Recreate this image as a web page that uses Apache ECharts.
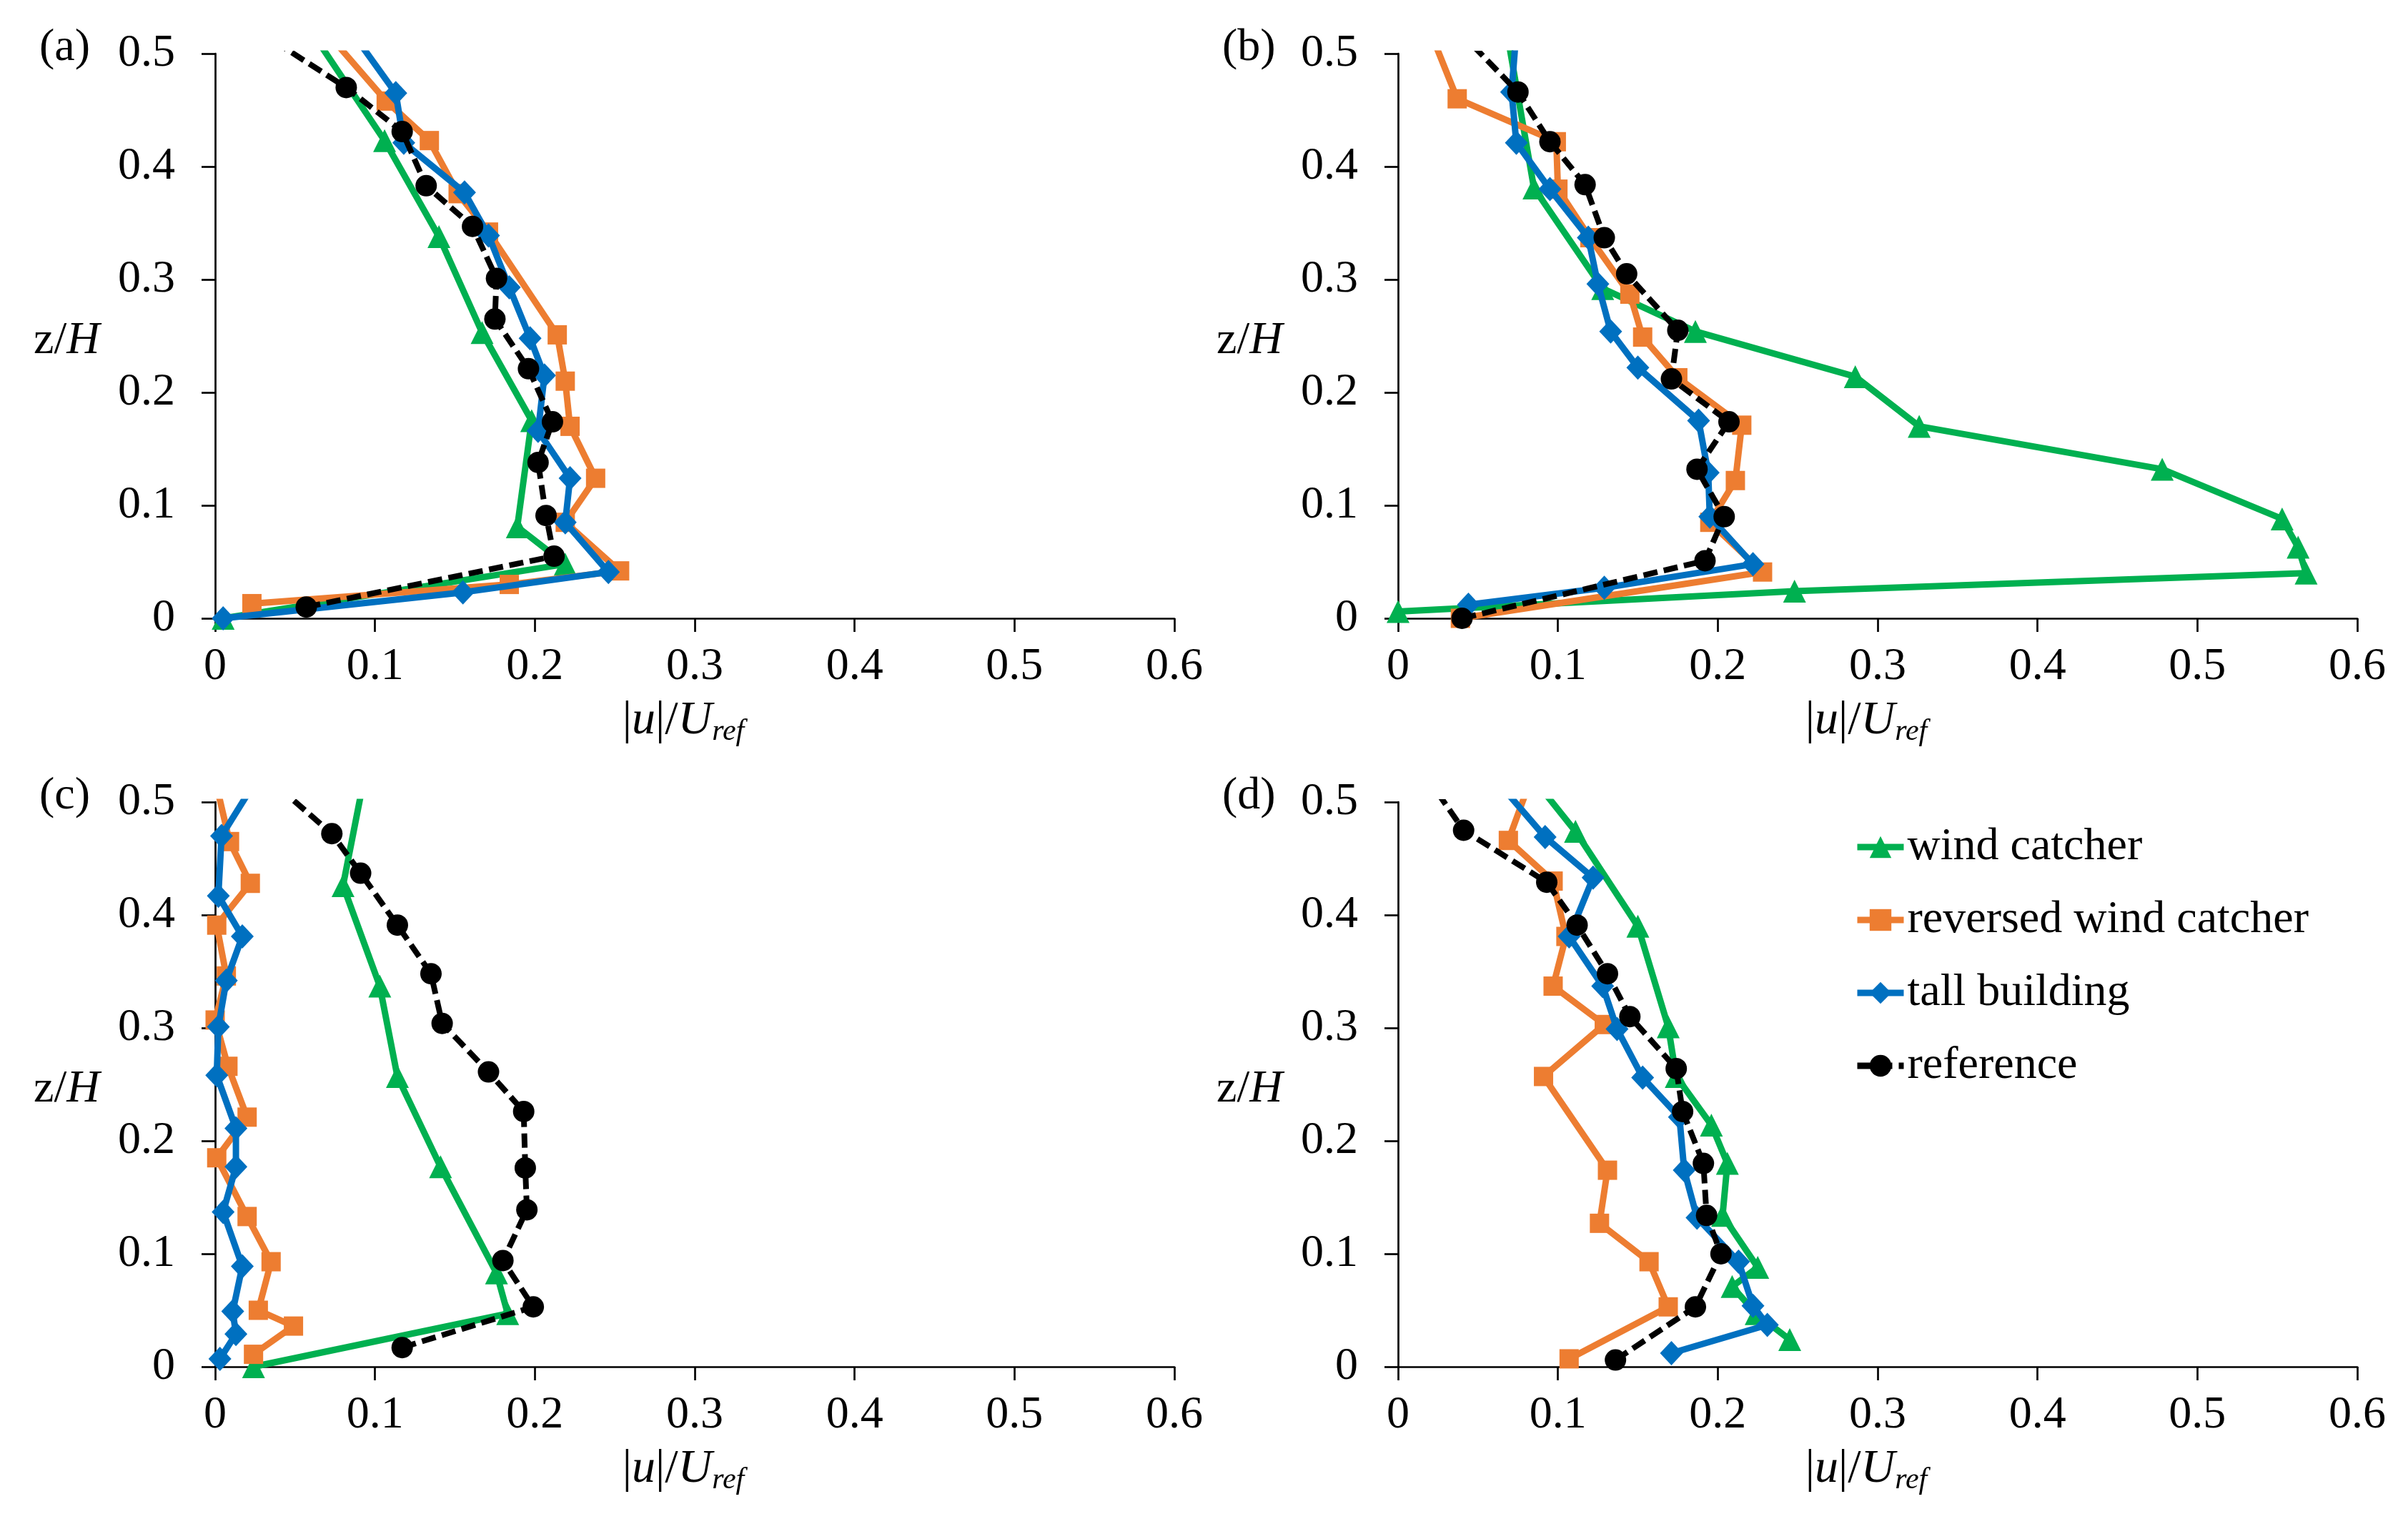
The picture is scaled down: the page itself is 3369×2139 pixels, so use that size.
<!DOCTYPE html>
<html>
<head>
<meta charset="utf-8">
<script src="https://cdn.jsdelivr.net/npm/echarts@6.0.0/dist/echarts.min.js"></script>
<style>
  html, body { margin: 0; padding: 0; background: #fff; }
  #chart { width: 3369px; height: 2139px; }
</style>
</head>
<body>
<div id="chart"></div>
<script>
// values, [|u|/Uref, z/H]; last point of each list sits just above 0.5 (clipped)
const seriesNames = ['wind catcher', 'reversed wind catcher', 'tall building', 'reference'];
const panelLabels = ['(a)', '(b)', '(c)', '(d)'];

const aWind = [[0.005,0],[0.219,0.048],[0.189,0.081],[0.198,0.175],[0.167,0.253],[0.140,0.338],[0.106,0.423],[0.060,0.52]];
const aRev  = [[0.023,0.013],[0.184,0.030],[0.253,0.042],[0.219,0.085],[0.238,0.124],[0.222,0.170],[0.219,0.210],[0.214,0.251],[0.171,0.342],[0.152,0.376],[0.134,0.423],[0.107,0.458],[0.069,0.52]];
const aTall = [[0.005,0],[0.155,0.023],[0.246,0.041],[0.219,0.085],[0.222,0.124],[0.202,0.166],[0.206,0.215],[0.197,0.248],[0.184,0.293],[0.171,0.339],[0.156,0.377],[0.118,0.421],[0.113,0.465],[0.085,0.52]];
const aRef  = [[0.057,0.010],[0.212,0.055],[0.207,0.091],[0.202,0.138],[0.211,0.174],[0.196,0.221],[0.175,0.265],[0.176,0.301],[0.161,0.347],[0.132,0.383],[0.117,0.431],[0.082,0.470],[0.038,0.51]];

const bWind = [[0,0.006],[0.248,0.024],[0.568,0.040],[0.563,0.063],[0.553,0.088],[0.478,0.132],[0.326,0.170],[0.286,0.214],[0.186,0.254],[0.128,0.292],[0.085,0.381],[0.068,0.52]];
const bRev  = [[0.039,0],[0.228,0.041],[0.195,0.085],[0.211,0.122],[0.215,0.171],[0.175,0.213],[0.153,0.249],[0.145,0.287],[0.120,0.337],[0.100,0.380],[0.099,0.422],[0.037,0.460],[0.020,0.52]];
const bTall = [[0.044,0.012],[0.129,0.027],[0.222,0.048],[0.195,0.090],[0.194,0.129],[0.188,0.175],[0.150,0.222],[0.133,0.254],[0.125,0.296],[0.119,0.337],[0.095,0.380],[0.074,0.421],[0.071,0.466],[0.074,0.52]];
const bRef  = [[0.040,0],[0.192,0.051],[0.204,0.090],[0.187,0.132],[0.207,0.174],[0.171,0.212],[0.175,0.255],[0.143,0.305],[0.129,0.337],[0.117,0.384],[0.095,0.422],[0.075,0.466],[0.038,0.52]];

const cWind = [[0.024,0],[0.183,0.047],[0.176,0.083],[0.141,0.177],[0.114,0.257],[0.103,0.337],[0.080,0.426],[0.093,0.52]];
const cRev  = [[0.024,0.011],[0.049,0.036],[0.027,0.050],[0.035,0.093],[0.020,0.133],[0.001,0.185],[0.020,0.221],[0.008,0.266],[0,0.307],[0.007,0.346],[0.001,0.391],[0.022,0.428],[0.009,0.465],[0,0.52]];
const cTall = [[0.003,0.007],[0.013,0.029],[0.011,0.049],[0.017,0.089],[0.005,0.137],[0.013,0.177],[0.013,0.211],[0.001,0.258],[0.002,0.301],[0.007,0.342],[0.017,0.381],[0.002,0.417],[0.004,0.470],[0.026,0.52]];
const cRef  = [[0.117,0.017],[0.199,0.053],[0.180,0.094],[0.195,0.139],[0.194,0.176],[0.193,0.226],[0.171,0.261],[0.142,0.304],[0.135,0.348],[0.114,0.391],[0.091,0.437],[0.073,0.472],[0.034,0.52]];

const dWind = [[0.245,0.024],[0.224,0.047],[0.209,0.071],[0.225,0.088],[0.203,0.134],[0.206,0.180],[0.196,0.214],[0.174,0.257],[0.169,0.301],[0.150,0.390],[0.111,0.474],[0.085,0.52]];
const dRev  = [[0.107,0.007],[0.169,0.053],[0.157,0.093],[0.126,0.127],[0.131,0.174],[0.091,0.257],[0.129,0.303],[0.097,0.337],[0.105,0.381],[0.097,0.430],[0.069,0.466],[0.083,0.52]];
const dTall = [[0.171,0.012],[0.231,0.037],[0.222,0.054],[0.213,0.093],[0.187,0.132],[0.179,0.174],[0.176,0.221],[0.153,0.256],[0.137,0.299],[0.128,0.337],[0.107,0.381],[0.122,0.433],[0.092,0.469],[0.061,0.52]];
const dRef  = [[0.136,0.006],[0.186,0.053],[0.202,0.100],[0.193,0.134],[0.191,0.180],[0.178,0.226],[0.174,0.264],[0.145,0.310],[0.131,0.348],[0.112,0.391],[0.093,0.429],[0.041,0.475],[0.019,0.52]];

const panelData = [
  [aWind, aRev, aTall, aRef],
  [bWind, bRev, bTall, bRef],
  [cWind, cRev, cTall, cRef],
  [dWind, dRev, dTall, dRef]
];

const FONT = 'Liberation Serif';
const FS = 64;
const colors = ['#00B050', '#ED7D31', '#0070C0', '#000000'];
const symbols = ['triangle', 'rect', 'diamond', 'circle'];
const symbolSizes = [32, 27, [32, 34], 30];

// panel boxes (plot area)
const boxes = [
  {left: 301,  top: 75},
  {left: 1956, top: 75},
  {left: 301,  top: 1122},
  {left: 1956, top: 1122}
];
const W = 1342, H = 790;

var grids = [], xAxes = [], yAxes = [], series = [], graphics = [];

boxes.forEach(function (b, p) {
  grids.push({left: b.left, top: b.top, width: W, height: H, outerBoundsMode: 'none'});

  xAxes.push({
    type: 'value', gridIndex: p, min: 0, max: 0.6, interval: 0.1,
    splitLine: {show: false},
    axisLine: {lineStyle: {color: '#000', width: 2.7}},
    axisTick: {length: 19, lineStyle: {color: '#000', width: 2.7}},
    axisLabel: {margin: 36, color: '#000', fontFamily: FONT, fontSize: FS},
    name: '{r||}{i|u}{r||/}{i|U}{s|ref}',
    nameLocation: 'middle', nameGap: 108,
    nameTextStyle: {
      color: '#000', fontFamily: FONT,
      rich: {
        r: {fontFamily: FONT, fontSize: 66, lineHeight: 72, verticalAlign: 'middle', color: '#000'},
        i: {fontFamily: FONT, fontSize: 66, fontStyle: 'italic', lineHeight: 72, verticalAlign: 'middle', color: '#000'},
        s: {fontFamily: FONT, fontSize: 42, fontStyle: 'italic', lineHeight: 30, verticalAlign: 'bottom', color: '#000', padding: [0, 32, 0, 0]}
      }
    }
  });

  yAxes.push({
    type: 'value', gridIndex: p, min: 0, max: 0.5, interval: 0.1,
    splitLine: {show: false},
    axisLine: {lineStyle: {color: '#000', width: 2.7}},
    axisTick: {length: 19, lineStyle: {color: '#000', width: 2.7}},
    axisLabel: {margin: 56, color: '#000', fontFamily: FONT, fontSize: FS}
  });

  panelData[p].forEach(function (d, k) {
    series.push({
      name: seriesNames[k],
      type: 'line',
      xAxisIndex: p, yAxisIndex: p,
      data: d,
      symbol: symbols[k],
      symbolSize: symbolSizes[k],
      showAllSymbol: true,
      clip: true,
      color: colors[k],
      itemStyle: {color: colors[k]},
      lineStyle: {color: colors[k], width: k === 3 ? 8 : 9, type: k === 3 ? [20, 9] : 'solid'},
      z: 2 + k
    });
  });

  // panel tag
  graphics.push({
    type: 'text', left: b.left - 246, top: b.top - 40,
    style: {text: panelLabels[p], fontFamily: FONT, fontSize: FS, fill: '#000'}
  });
  // y-axis name z/H
  graphics.push({
    type: 'text', left: b.left - 254, top: b.top + 370,
    style: {
      text: '{r|z/}{i|H}',
      fontFamily: FONT, fontSize: FS,
      rich: {
        r: {fontFamily: FONT, fontSize: FS, fill: '#000'},
        i: {fontFamily: FONT, fontSize: FS, fontStyle: 'italic', fill: '#000'}
      }
    }
  });
});

var myChart = echarts.init(document.getElementById('chart'));
myChart.setOption({
  backgroundColor: '#fff',
  animation: false,
  textStyle: {fontFamily: FONT},
  grid: grids,
  xAxis: xAxes,
  yAxis: yAxes,
  legend: {
    data: seriesNames,
    orient: 'vertical',
    left: 2589, top: 1148,
    itemWidth: 65, itemHeight: 38, itemGap: 38,
    lineStyle: {width: 9},
    textStyle: {fontFamily: FONT, fontSize: FS, color: '#000', lineHeight: 64}
  },
  graphic: graphics,
  series: series
});
</script>
</body>
</html>
